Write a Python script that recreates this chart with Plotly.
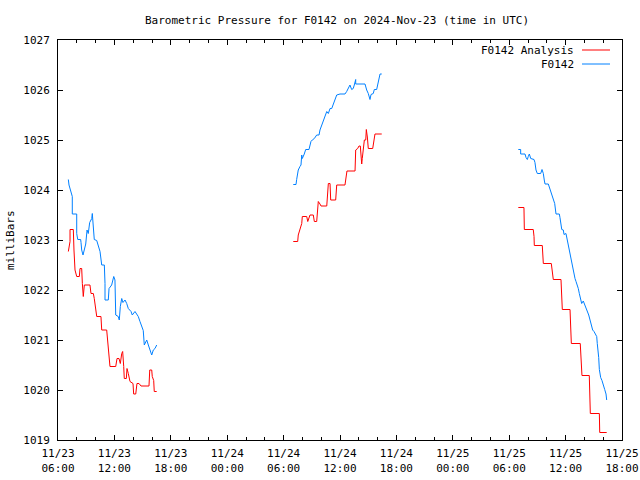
import plotly.graph_objects as go
import pandas as pd

start = pd.Timestamp("2024-11-23 06:00")

# hours after 2024-11-23 06:00 UTC, pressure in mb
red_h = [1.10, 1.28, 1.28, 1.63, 1.70, 1.81, 1.99, 2.27, 2.34, 2.52, 2.59, 2.69, 2.80, 3.40, 3.51, 3.76, 3.86, 4.01,
         4.12, 4.57, 4.65, 5.18, 5.29, 5.43, 5.53, 6.14, 6.28, 6.49, 6.63, 6.78, 6.88, 6.99, 7.05, 7.27, 7.34, 7.48,
         7.66, 7.98, 8.05, 8.27, 8.40, 8.62, 8.83, 9.68, 9.76, 9.97, 10.03, 10.18, 10.24, 10.50,
         None,
         25.03, 25.50, 25.56, 25.74, 25.93, 25.99, 26.46, 26.57, 26.63, 26.81, 27.16, 27.27, 27.52, 27.63, 27.69,
         27.87, 27.98, 28.59, 28.69, 28.76, 28.94, 29.01, 29.54, 29.65, 30.53, 30.64, 30.74, 31.60, 31.67, 31.88,
         32.02, 32.16, 32.23, 32.31, 32.37, 32.52, 32.59, 32.74, 32.80, 32.91, 33.01, 33.48, 33.59, 33.72, 34.44,
         None,
         48.97, 49.57, 49.61, 50.56, 50.64, 50.67, 51.52, 51.56, 51.63, 52.48, 52.55, 52.69, 53.51, 53.59, 53.65,
         54.47, 54.54, 54.61, 55.56, 55.61, 55.67, 55.74, 56.52, 56.56, 56.63, 57.59, 57.63, 58.37]
red_p = [1022.77, 1022.97, 1023.21, 1023.21, 1022.80, 1022.40, 1022.27, 1022.27, 1022.43, 1022.43, 1022.13, 1021.87,
         1022.10, 1022.10, 1021.93, 1021.93, 1021.83, 1021.67, 1021.47, 1021.47, 1021.20, 1021.20, 1020.97, 1020.77,
         1020.47, 1020.47, 1020.63, 1020.63, 1020.53, 1020.73, 1020.77, 1020.47, 1020.23, 1020.23, 1020.43, 1020.33,
         1020.17, 1020.13, 1019.92, 1019.92, 1020.13, 1020.13, 1020.08, 1020.08, 1020.40, 1020.40, 1020.27, 1020.19,
         1019.97, 1019.97,
         None,
         1022.97, 1022.97, 1023.10, 1023.21, 1023.33, 1023.47, 1023.47, 1023.37, 1023.41, 1023.50, 1023.50, 1023.37,
         1023.37, 1023.67, 1023.77, 1023.72, 1023.68, 1023.68, 1023.90, 1024.13, 1024.13, 1023.80, 1023.80, 1024.10,
         1024.10, 1024.28, 1024.38, 1024.38, 1024.80, 1024.83, 1024.88, 1024.88, 1024.68, 1024.52, 1024.63, 1024.83,
         1025.00, 1025.00, 1025.21, 1025.06, 1024.83, 1024.83, 1024.99, 1025.12, 1025.12,
         None,
         1023.65, 1023.65, 1023.21, 1023.21, 1023.07, 1022.89, 1022.89, 1022.73, 1022.53, 1022.53, 1022.43, 1022.21,
         1022.21, 1021.92, 1021.61, 1021.61, 1021.28, 1020.93, 1020.93, 1020.78, 1020.47, 1020.29, 1020.29, 1019.92,
         1019.53, 1019.53, 1019.15, 1019.15]

blue_h = [1.10, 1.17, 1.52, 1.52, 1.99, 1.99, 2.10, 2.41, 2.45, 2.52, 2.66, 2.80, 2.95, 3.09, 3.22, 3.37, 3.59, 3.65,
          3.72, 3.86, 4.12, 4.29, 4.47, 4.65, 4.93, 5.00, 5.00, 5.35, 5.43, 5.71, 5.93, 6.06, 6.14, 6.41, 6.52, 6.63,
          6.78, 6.91, 7.13, 7.31, 7.48, 7.77, 7.90, 8.19, 8.37, 8.54, 8.72, 8.90, 9.07, 9.18, 9.44, 9.61, 9.79, 9.97,
          10.14, 10.32, 10.50,
          None,
          25.03, 25.32, 25.39, 25.50, 25.56, 25.74, 25.85, 25.93, 25.99, 26.20, 26.35, 26.70, 26.81, 26.91, 27.05,
          27.27, 27.52, 27.77, 27.87, 28.05, 28.22, 28.40, 28.59, 28.76, 28.94, 29.12, 29.29, 29.47, 29.65, 30.00,
          30.53, 30.71, 30.88, 31.06, 31.24, 31.41, 31.52, 31.67, 31.67, 32.66, 32.84, 33.01, 33.19, 33.30, 33.54,
          33.65, 33.90, 34.01, 34.15, 34.26, 34.44,
          None,
          48.97, 49.22, 49.22, 49.68, 49.79, 49.93, 50.03, 50.14, 50.29, 50.64, 50.74, 50.85, 50.99, 51.35, 51.49,
          51.63, 51.73, 51.81, 52.16, 52.27, 52.41, 52.55, 52.69, 52.84, 52.98, 53.33, 53.40, 53.51, 53.59, 53.76,
          53.83, 54.04, 54.12, 54.22, 54.33, 54.47, 54.54, 54.65, 54.76, 54.86, 55.00, 55.11, 55.24, 55.35, 55.46,
          55.61, 55.71, 55.88, 56.06, 56.17, 56.31, 56.46, 56.60, 56.73, 56.88, 57.02, 57.16, 57.31, 57.37, 57.45,
          57.52, 57.59, 57.73, 57.87, 58.01, 58.16, 58.30, 58.37]
blue_p = [1024.21, 1024.10, 1023.87, 1023.52, 1023.52, 1023.13, 1023.01, 1023.01, 1022.95, 1022.80, 1022.70, 1022.80,
          1022.92, 1023.20, 1023.13, 1023.35, 1023.43, 1023.53, 1023.37, 1023.01, 1022.99, 1022.87, 1022.77, 1022.50,
          1022.50, 1022.13, 1021.80, 1021.80, 1022.03, 1022.10, 1022.27, 1022.20, 1021.50, 1021.47, 1021.40, 1021.67,
          1021.83, 1021.75, 1021.80, 1021.73, 1021.63, 1021.57, 1021.50, 1021.57, 1021.53, 1021.47, 1021.37, 1021.27,
          1021.19, 1020.90, 1021.00, 1020.90, 1020.80, 1020.70, 1020.80, 1020.83, 1020.90,
          None,
          1024.11, 1024.11, 1024.21, 1024.30, 1024.40, 1024.47, 1024.50, 1024.70, 1024.63, 1024.72, 1024.81, 1024.81,
          1024.88, 1024.97, 1025.00, 1025.03, 1025.10, 1025.10, 1025.20, 1025.30, 1025.39, 1025.47, 1025.57, 1025.53,
          1025.63, 1025.63, 1025.73, 1025.80, 1025.90, 1025.92, 1025.92, 1025.97, 1026.03, 1026.10, 1026.01, 1026.03,
          1026.10, 1026.21, 1026.12, 1026.12, 1026.00, 1025.93, 1025.81, 1025.91, 1025.93, 1026.01, 1026.01, 1026.12,
          1026.23, 1026.32, 1026.32,
          None,
          1024.81, 1024.81, 1024.72, 1024.72, 1024.65, 1024.61, 1024.67, 1024.72, 1024.63, 1024.61, 1024.55, 1024.40,
          1024.33, 1024.33, 1024.41, 1024.33, 1024.20, 1024.12, 1024.12, 1024.05, 1023.97, 1023.88, 1023.81, 1023.73,
          1023.52, 1023.52, 1023.45, 1023.32, 1023.21, 1023.20, 1023.11, 1023.13, 1023.05, 1022.97, 1022.83, 1022.77,
          1022.63, 1022.55, 1022.47, 1022.37, 1022.23, 1022.17, 1022.10, 1022.03, 1021.93, 1021.83, 1021.73, 1021.78,
          1021.70, 1021.65, 1021.60, 1021.50, 1021.40, 1021.30, 1021.20, 1021.17, 1021.13, 1021.07, 1020.93, 1020.80,
          1020.65, 1020.41, 1020.25, 1020.19, 1020.12, 1020.01, 1019.92, 1019.80]

x_tick_labels = ["11/23<br>06:00", "11/23<br>12:00", "11/23<br>18:00", "11/24<br>00:00", "11/24<br>06:00",
                 "11/24<br>12:00", "11/24<br>18:00", "11/25<br>00:00", "11/25<br>06:00", "11/25<br>12:00",
                 "11/25<br>18:00"]
x_tick_hours = [0, 6, 12, 18, 24, 30, 36, 42, 48, 54, 60]
y_ticks = [1019, 1020, 1021, 1022, 1023, 1024, 1025, 1026, 1027]

series_names = ["F0142 Analysis", "F0142"]
colors = ["#ff0000", "#0080ff"]


def to_time(hours):
    return [None if h is None else start + pd.Timedelta(hours=h) for h in hours]


FONT = "DejaVu Sans Mono"

fig = go.Figure()
fig.add_trace(go.Scatter(x=to_time(red_h), y=red_p, mode="lines", name=series_names[0],
                         line=dict(color=colors[0], width=1), connectgaps=False))
fig.add_trace(go.Scatter(x=to_time(blue_h), y=blue_p, mode="lines", name=series_names[1],
                         line=dict(color=colors[1], width=1), connectgaps=False))

fig.update_layout(
    width=640, height=480,
    margin=dict(l=58, r=18, t=40, b=40, autoexpand=False),
    paper_bgcolor="white", plot_bgcolor="white",
    showlegend=False,
    font=dict(family=FONT, size=11, color="black"),
    title=dict(text="Barometric Pressure for F0142 on 2024-Nov-23 (time in UTC)",
               x=337 / 640, xanchor="center", y=1 - 20 / 480, yanchor="middle",
               font=dict(family=FONT, size=11, color="black"), automargin=False),
)

fig.update_xaxes(
    range=[start, start + pd.Timedelta(hours=60)],
    tickvals=to_time(x_tick_hours), ticktext=x_tick_labels,
    ticks="inside", ticklen=5, tickcolor="black", tickwidth=1,
    showline=True, linecolor="black", linewidth=1, mirror="ticks",
    showgrid=False, zeroline=False, automargin=False, ticklabeloverflow="allow",
    ticklabelstandoff=3,
    minor=dict(dtick=2 * 3600 * 1000, ticks="inside", ticklen=3, tickcolor="black", showgrid=False),
    tickfont=dict(family=FONT, size=11),
)
fig.update_yaxes(
    range=[1019, 1027], tickvals=y_ticks,
    ticks="inside", ticklen=5, tickcolor="black", tickwidth=1,
    showline=True, linecolor="black", linewidth=1, mirror="ticks",
    showgrid=False, zeroline=False, automargin=False,
    ticklabelstandoff=5,
    tickfont=dict(family=FONT, size=11),
)

# y-axis label
fig.add_annotation(xref="paper", yref="paper", x=(10 - 58) / 564, y=0.5, text="milliBars", textangle=-90,
                   showarrow=False, xanchor="center", yanchor="middle",
                   font=dict(family=FONT, size=11, color="black"))

# legend (gnuplot style: text then line sample on right)
for i, (name, col) in enumerate(zip(series_names, colors)):
    yy = 1 - (10 + i * 14) / 400
    fig.add_annotation(xref="paper", yref="paper", x=(576 - 58) / 564, y=yy, text=name, showarrow=False,
                       xanchor="right", yanchor="middle", font=dict(family=FONT, size=11, color="black"))
    fig.add_shape(type="line", xref="paper", yref="paper", x0=(582 - 58) / 564, x1=(610 - 58) / 564,
                  y0=yy, y1=yy, line=dict(color=col, width=1))

fig.write_html("out.html", config={"displayModeBar": False},
               post_script="document.body.style.margin='0';document.body.style.overflow='hidden';")
